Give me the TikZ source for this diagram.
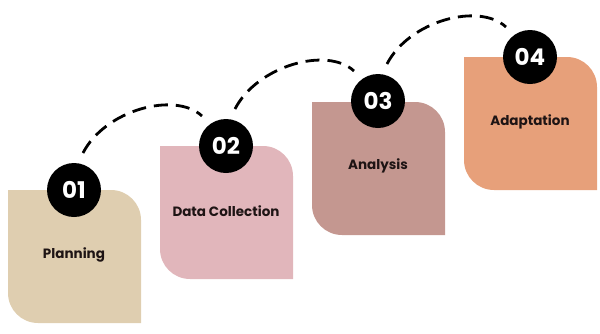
\documentclass[tikz,border=0pt]{standalone}
\usepackage{fontspec}
\setmainfont{Poppins}
\usetikzlibrary{calc}
\definecolor{cA}{HTML}{DFCEB0}
\definecolor{cB}{HTML}{E1B6BB}
\definecolor{cC}{HTML}{C49790}
\definecolor{cD}{HTML}{E7A07A}
\definecolor{ink}{HTML}{1E1414}
\newcommand\stepcard[3]{%
  \fill[#3] (#1,#2) -- ++(103,0) .. controls +(16.6,0) and +(0,-16.6) .. ++(30,30)
    -- ++(0,103) -- ++(-103,0) .. controls +(-16.6,0) and +(0,16.6) .. ++(-30,-30) -- cycle;}
\begin{document}
\begin{tikzpicture}[x=1pt,y=-1pt,
  numdot/.style={circle,fill=black,text=white,minimum size=54pt,inner sep=0pt,font=\bfseries\fontsize{23}{23}\selectfont},
  cardlabel/.style={text=ink,font=\bfseries\fontsize{13.5}{15}\selectfont},
  arcline/.style={line width=2.8pt,dash pattern=on 14pt off 8pt}]
\useasboundingbox (0,0) rectangle (600,333);
\stepcard{8}{190}{cA}
\stepcard{160}{146}{cB}
\stepcard{312}{102}{cC}
\stepcard{464}{57}{cD}
\node[cardlabel] (t1) at (74,255) {Planning};
\node[cardlabel] (t2) at (226,211) {Data Collection};
\node[cardlabel] (t3) at (378,166) {Analysis};
\node[cardlabel] (t4) at (530,122) {Adaptation};
\node[numdot] (n1) at (74,190) {01};
\node[numdot] (n2) at (226,146) {02};
\node[numdot] (n3) at (378,101) {03};
\node[numdot] (n4) at (530,57) {04};
\foreach \a/\b in {1/2,2/3,3/4}{
  \coordinate (s\a) at ($(n\a)+(9,-37)$);
  \coordinate (e\a) at ($(n\b)+(-24,-30)$);
  \draw[arcline] (s\a) .. controls +(22,-43) and +(-27,-25) .. (e\a);
}
\end{tikzpicture}
\end{document}
